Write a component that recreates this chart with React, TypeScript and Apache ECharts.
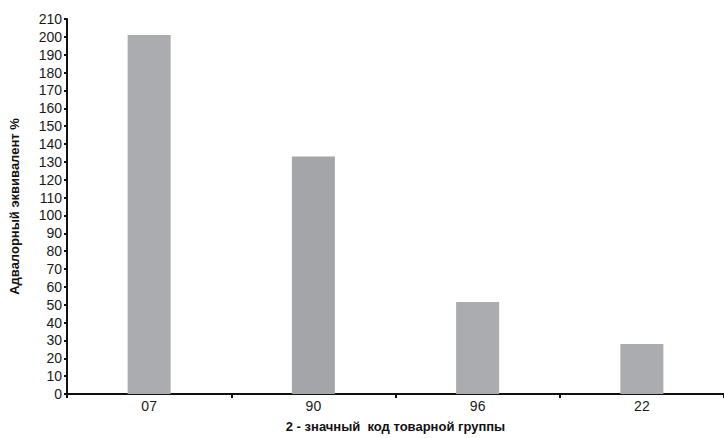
import React, { useEffect, useRef } from "react";
import * as echarts from "echarts";

const categories = ["07", "90", "96", "22"];
const values = [201, 133, 51.5, 28];
const barColors = ["#abacaf", "#a4a5a8", "#abacaf", "#abacaf"];
const yAxisName = "Адвалорный эквивалент %";
const xAxisName = "2 - значный  код товарной группы";

export default function App() {
  const ref = useRef<HTMLDivElement>(null);
  useEffect(() => {
    if (!ref.current) return;
    const chart = echarts.init(ref.current, null, { renderer: "svg" });
    chart.setOption({
      animation: false,
      grid: { left: 66, right: -6, top: 19, bottom: 38, containLabel: false },
      xAxis: {
        type: "category",
        data: categories,
        name: xAxisName,
        nameLocation: "middle",
        nameGap: 26,
        nameTextStyle: { fontFamily: "Liberation Sans", fontSize: 13, fontWeight: "bold", color: "#111" },
        axisLine: { lineStyle: { color: "#111", width: 2 } },
        axisTick: { show: true, length: 4, lineStyle: { color: "#111", width: 2 } },
        axisLabel: { fontFamily: "Liberation Sans", fontSize: 14, color: "#1a1a1a", margin: 5 },
      },
      yAxis: {
        type: "value",
        min: 0,
        max: 210,
        interval: 10,
        name: yAxisName,
        nameLocation: "middle",
        nameGap: 46,
        nameRotate: 90,
        nameTextStyle: { fontFamily: "Liberation Sans", fontSize: 13, fontWeight: "bold", color: "#111" },
        axisLine: { show: true, lineStyle: { color: "#111", width: 2 } },
        axisTick: { show: true, length: 3, lineStyle: { color: "#111", width: 2 } },
        axisLabel: { fontFamily: "Liberation Sans", fontSize: 14, color: "#1a1a1a", margin: 5 },
        splitLine: { show: false },
      },
      series: [
        {
          type: "bar",
          data: values.map((v, i) => ({ value: v, itemStyle: { color: barColors[i] } })),
          barWidth: 43,
        },
      ],
    });
    return () => chart.dispose();
  }, []);
  return <div ref={ref} style={{ width: 724, height: 438, position: "absolute", left: 0, top: 0 }} />;
}
